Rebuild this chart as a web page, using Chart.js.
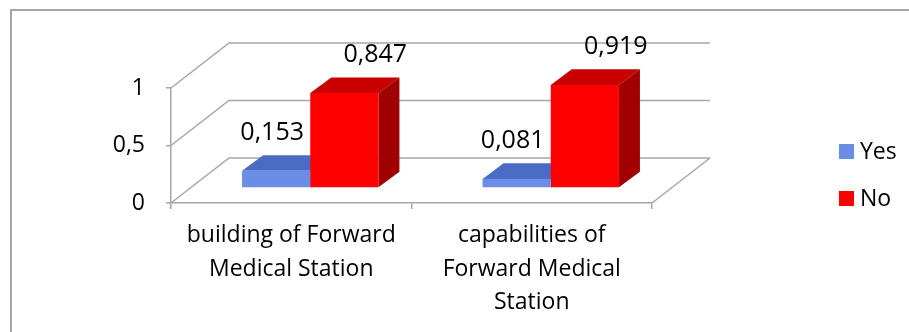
<!DOCTYPE html>
<html lang="en">
<head>
<meta charset="UTF-8">
<title>Forward Medical Station</title>
<script src="https://cdn.jsdelivr.net/npm/chart.js@4"></script>
<style>
  html, body { margin: 0; padding: 0; background: #fff; }
  #wrap { position: relative; width: 909px; height: 332px; overflow: hidden; }
  #wrap::before { content: ''; position: absolute; left: 10px; top: 9px; right: -10px; bottom: -10px; border: 2px solid #a6a6a6; }
  canvas { position: absolute; left: 0; top: 0; }
</style>
</head>
<body>
<div id="wrap"><canvas id="chart" width="909" height="332"></canvas></div>
<script>
const categories = [['building of Forward', 'Medical Station'], ['capabilities of', 'Forward Medical', 'Station']];
const yesValues = [0.153, 0.081];
const noValues = [0.847, 0.919];
const yTicks = [0, 0.5, 1];

// depth of the floor / walls, and of the bars
const WALL_DX = 58, WALL_DY = 45;
const BAR_X = 19, BAR_Y = 15;     // bars stand this far back from the front edge
const BAR_SCALE = 0.975;          // slight shrink further back
const BOX_DX = 21, BOX_DY = 16;   // thickness of a bar

const FONT = "'Open Sans', sans-serif";
const GRID = '#a6a6a6';
const fmt = v => String(v).replace('.', ',');

const box3d = {
  id: 'box3d',
  beforeDatasetsDraw(chart) {
    const {ctx, chartArea: a, scales: {y}} = chart;
    // side wall, back wall and floor edge
    ctx.save();
    ctx.strokeStyle = GRID;
    ctx.lineWidth = 1.5;
    ctx.beginPath();
    yTicks.forEach(v => {
      const py = y.getPixelForValue(v);
      ctx.moveTo(a.left, py);
      ctx.lineTo(a.left + WALL_DX, py - WALL_DY);
      ctx.lineTo(a.right + WALL_DX, py - WALL_DY);
    });
    ctx.moveTo(a.right, a.bottom);
    ctx.lineTo(a.right + WALL_DX, a.bottom - WALL_DY);
    ctx.stroke();
    ctx.restore();

    // bars are drawn pushed back into the box; tops and sides first
    const base = y.getPixelForValue(0);
    ctx.save();
    ctx.translate(BAR_X, base - BAR_Y);
    ctx.scale(1, BAR_SCALE);
    ctx.translate(0, -base);
    chart.data.datasets.forEach((ds, i) => {
      chart.getDatasetMeta(i).data.forEach(bar => {
        const l = bar.x - bar.width / 2, r = bar.x + bar.width / 2;
        ctx.fillStyle = ds.topColor;
        ctx.beginPath();
        ctx.moveTo(l, bar.y);
        ctx.lineTo(l + BOX_DX, bar.y - BOX_DY);
        ctx.lineTo(r + BOX_DX, bar.y - BOX_DY);
        ctx.lineTo(r, bar.y);
        ctx.closePath();
        ctx.fill();

        ctx.fillStyle = ds.sideColor;
        ctx.beginPath();
        ctx.moveTo(r, bar.y);
        ctx.lineTo(r + BOX_DX, bar.y - BOX_DY);
        ctx.lineTo(r + BOX_DX, bar.base - BOX_DY);
        ctx.lineTo(r, bar.base);
        ctx.closePath();
        ctx.fill();
      });
    });
  },
  afterDatasetsDraw(chart) {
    const {ctx, chartArea: a, scales: {y}} = chart;
    ctx.restore();

    const base = y.getPixelForValue(0);
    ctx.save();
    ctx.fillStyle = '#000';
    ctx.font = '25px ' + FONT;
    ctx.textAlign = 'center';
    ctx.textBaseline = 'middle';
    chart.data.datasets.forEach((ds, i) => {
      chart.getDatasetMeta(i).data.forEach((bar, j) => {
        const top = base - BAR_Y - (base - bar.y) * BAR_SCALE;
        ctx.fillText(fmt(ds.data[j]), bar.x + BAR_X + ds.labelShift, top - 38);
      });
    });

    // legend
    ctx.font = '23px ' + FONT;
    ctx.textAlign = 'left';
    chart.data.datasets.forEach((ds, i) => {
      const cy = a.bottom - 52 + i * 47;
      ctx.fillStyle = ds.backgroundColor;
      ctx.fillRect(a.right + 187, cy - 7, 15, 15);
      ctx.fillStyle = '#000';
      ctx.fillText(ds.label, a.right + 208, cy + 1);
    });
    ctx.restore();
  }
};

new Chart(document.getElementById('chart'), {
  type: 'bar',
  data: {
    labels: categories,
    datasets: [
      { label: 'Yes', data: yesValues, backgroundColor: '#6a8de6', topColor: '#4a6cc4', sideColor: '#3d5aa8', labelShift: -4 },
      { label: 'No', data: noValues, backgroundColor: '#ff0000', topColor: '#c80000', sideColor: '#a00000', labelShift: 31 }
    ]
  },
  options: {
    responsive: false,
    animation: false,
    events: [],
    layout: { padding: { left: 0, top: 88, right: 257, bottom: 0 } },
    datasets: { bar: { categoryPercentage: 0.567, barPercentage: 1, borderWidth: 0, clip: false } },
    plugins: { legend: { display: false }, tooltip: { enabled: false } },
    scales: {
      x: {
        grid: { offset: true, drawOnChartArea: false, tickLength: 6, color: GRID, lineWidth: 1.5 },
        border: { color: GRID, width: 1.5 },
        ticks: { color: '#000', font: { family: FONT, size: 23, lineHeight: 1.45 }, padding: 10, maxRotation: 0, autoSkip: false },
        afterFit: s => { s.height = 129; }
      },
      y: {
        min: 0,
        max: 1,
        grid: { drawOnChartArea: false, tickLength: 5, color: GRID, lineWidth: 1.5 },
        border: { color: GRID, width: 1.5 },
        ticks: { stepSize: 0.5, color: '#000', font: { family: FONT, size: 23 }, padding: 21, callback: fmt },
        afterFit: s => { s.width = 171; }
      }
    }
  },
  plugins: [box3d]
});
</script>
</body>
</html>
